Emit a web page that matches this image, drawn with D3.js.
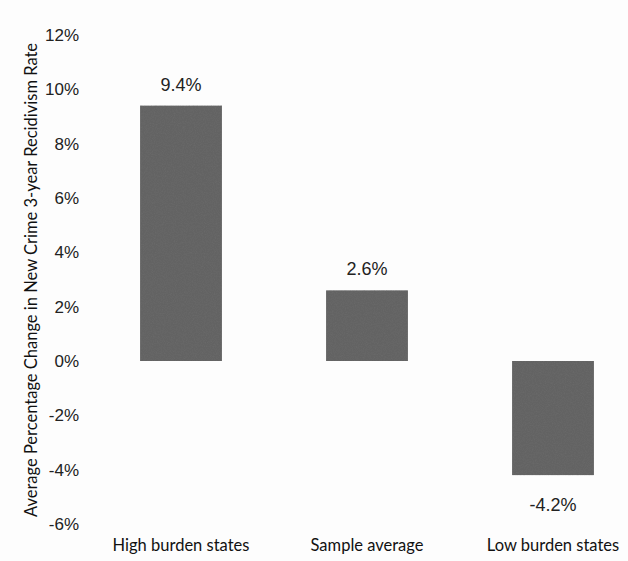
<!DOCTYPE html>
<html>
<head>
<meta charset="utf-8">
<script src="https://cdn.jsdelivr.net/npm/d3@7"></script>
<style>
  html, body { margin: 0; padding: 0; background: #fdfdfd; }
  svg { display: block; }
</style>
</head>
<body>
<svg id="chart" width="628" height="561"></svg>
<script>
const categories = ["High burden states", "Sample average", "Low burden states"];
const values = [9.4, 2.6, -4.2];
const valueLabels = ["9.4%", "2.6%", "-4.2%"];
const yTicks = [-6, -4, -2, 0, 2, 4, 6, 8, 10, 12];
const yTitle = "Average Percentage Change in New Crime 3-year Recidivism Rate";

const svg = d3.select("#chart");

const y = d3.scaleLinear().domain([-6, 12]).range([524, 35]);
const x = d3.scaleBand().domain(categories).range([88, 646])
  .paddingInner(0.56).paddingOuter(0.28);

// noise texture for bars
const defs = svg.append("defs");
const f = defs.append("filter").attr("id", "grain").attr("x", 0).attr("y", 0).attr("width", 1).attr("height", 1);
f.append("feTurbulence").attr("type", "fractalNoise").attr("baseFrequency", 0.9).attr("numOctaves", 2).attr("seed", 3).attr("result", "n");
f.append("feColorMatrix").attr("in", "n").attr("type", "matrix")
  .attr("values", "0 0 0 0 0.15  0 0 0 0 0.15  0 0 0 0 0.15  0 0 0 -1.2 0.75").attr("result", "dots");
f.append("feComposite").attr("in", "dots").attr("in2", "SourceGraphic").attr("operator", "in").attr("result", "d2");
f.append("feMerge").selectAll("feMergeNode").data(["SourceGraphic", "d2"]).join("feMergeNode").attr("in", d => d);

// y axis (labels only)
const yAxis = d3.axisLeft(y).tickValues(yTicks).tickSize(0).tickPadding(0)
  .tickFormat(d => d + "%");
const gy = svg.append("g").attr("transform", "translate(79,0)").call(yAxis);
gy.select(".domain").remove();
gy.selectAll("text").attr("font-family", "Liberation Sans, Arial, sans-serif")
  .attr("font-size", 17).attr("fill", "#222");

// bars
svg.append("g").selectAll("rect").data(values).join("rect")
  .attr("x", (d, i) => x(categories[i]))
  .attr("width", x.bandwidth())
  .attr("y", d => y(Math.max(0, d)))
  .attr("height", d => Math.abs(y(d) - y(0)))
  .attr("fill", "#646464")
  .attr("filter", "url(#grain)");

// value labels
svg.append("g").selectAll("text").data(values).join("text")
  .attr("x", (d, i) => x(categories[i]) + x.bandwidth() / 2)
  .attr("y", d => d >= 0 ? y(d) - 15 : y(d) + 36)
  .attr("text-anchor", "middle")
  .attr("font-family", "Liberation Sans, Arial, sans-serif")
  .attr("font-size", 18).attr("fill", "#222")
  .text((d, i) => valueLabels[i]);

// category labels
const xAxis = d3.axisBottom(x).tickSize(0).tickPadding(0);
const gx = svg.append("g").attr("transform", "translate(0,539)").call(xAxis);
gx.select(".domain").remove();
gx.selectAll("text").attr("font-family", "Lato, 'Open Sans', sans-serif")
  .attr("font-size", 16.5).attr("fill", "#111");

// y title
svg.append("text")
  .attr("transform", "translate(37,280) rotate(-90)")
  .attr("text-anchor", "middle")
  .attr("font-family", "Lato, 'Open Sans', sans-serif")
  .attr("font-size", 16.5).attr("fill", "#111")
  .text(yTitle);
</script>
</body>
</html>
